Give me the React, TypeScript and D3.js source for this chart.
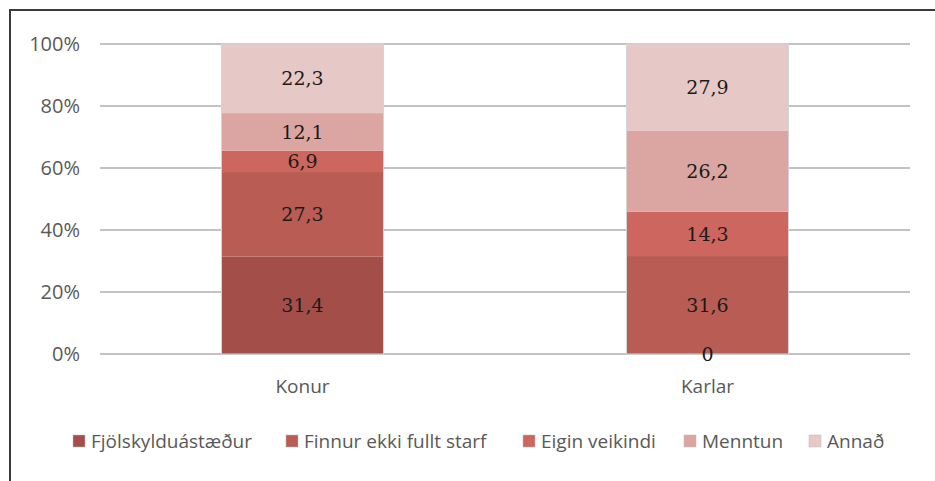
import React, { FC, useMemo } from 'react'
import * as d3 from 'd3'

const categories = ['Konur', 'Karlar']
const seriesNames = ['Fjölskylduástæður', 'Finnur ekki fullt starf', 'Eigin veikindi', 'Menntun', 'Annað']
const fjolskyldu = [31.4, 0]
const finnurEkki = [27.3, 31.6]
const eiginVeikindi = [6.9, 14.3]
const menntun = [12.1, 26.2]
const annad = [22.3, 27.9]
const yTicks = [0, 20, 40, 60, 80, 100]

const colors = ['#a34e48', '#b95c54', '#cd665e', '#dba5a2', '#e6c9c7']
// legend item x positions (square left edge)
const legendX = [73, 286, 523, 684, 809]

const W = 935
const H = 481
const margin = { left: 100, right: 25, top: 44, bottom: 127 }

const App: FC = () => {
	const rows = useMemo(
		() =>
			categories.map((c, i) => ({
				cat: c,
				[seriesNames[0]]: fjolskyldu[i],
				[seriesNames[1]]: finnurEkki[i],
				[seriesNames[2]]: eiginVeikindi[i],
				[seriesNames[3]]: menntun[i],
				[seriesNames[4]]: annad[i]
			})),
		[]
	)

	const stacked = useMemo(() => d3.stack<any>().keys(seriesNames)(rows), [rows])

	const x = d3
		.scaleBand()
		.domain(categories)
		.range([margin.left, W - margin.right])
		.paddingInner(0.6)
		.paddingOuter(0.3)

	const y = d3
		.scaleLinear()
		.domain([0, 100])
		.range([H - margin.bottom, margin.top])

	const fmt = (v: number) => String(v).replace('.', ',')

	return (
		<svg
			width={W}
			height={H}
			style={{ position: 'absolute', left: 0, top: 0, background: '#fff' }}
			fontFamily="'Open Sans', sans-serif"
		>
			{/* border */}
			<path d={`M10,${H} V10 H${W}`} fill="none" stroke="#3a3a3a" strokeWidth={2} />

			{/* grid */}
			<g>
				{yTicks.map(t => (
					<g key={t}>
						<line
							x1={margin.left}
							x2={W - margin.right}
							y1={y(t)}
							y2={y(t)}
							stroke="#c3c3c3"
							strokeWidth={2}
						/>
						<text
							x={80}
							y={y(t)}
							dy="0.35em"
							textAnchor="end"
							fontSize={20}
							fill="#595959"
						>
							{t}%
						</text>
					</g>
				))}
			</g>

			{/* bars */}
			<g>
				{stacked.map((s, si) =>
					s.map((d, ci) => (
						<rect
							key={`${si}-${ci}`}
							x={x(categories[ci])}
							y={y(d[1])}
							width={x.bandwidth()}
							height={y(d[0]) - y(d[1])}
							fill={colors[si]}
						/>
					))
				)}
				{categories.map(c => (
					<rect
						key={`o-${c}`}
						x={x(c)}
						y={y(100)}
						width={x.bandwidth()}
						height={y(0) - y(100)}
						fill="none"
						stroke="#d4d4d4"
						strokeWidth={1}
					/>
				))}
			</g>

			{/* data labels */}
			<g>
				{stacked.map((s, si) =>
					s.map((d, ci) => (
						<text
							key={`l-${si}-${ci}`}
							x={(x(categories[ci]) || 0) + x.bandwidth() / 2}
							y={y((d[0] + d[1]) / 2)}
							dy="0.35em"
							textAnchor="middle"
							fontFamily="'DejaVu Serif', serif"
							fontSize={19}
							fill="#1a1a1a"
						>
							{fmt(d.data[s.key])}
						</text>
					))
				)}
			</g>

			{/* category labels */}
			<g>
				{categories.map(c => (
					<text
						key={c}
						x={(x(c) || 0) + x.bandwidth() / 2}
						y={386}
						dy="0.35em"
						textAnchor="middle"
						fontSize={19}
						fill="#595959"
					>
						{c}
					</text>
				))}
			</g>

			{/* legend */}
			<g>
				{seriesNames.map((n, i) => (
					<g key={n} transform={`translate(${legendX[i]},435)`}>
						<rect width={12} height={12} fill={colors[i]} stroke="#bdbdbd" strokeWidth={0.5} />
						<text x={18} y={6} dy="0.35em" fontSize={19} fill="#595959">
							{n}
						</text>
					</g>
				))}
			</g>
		</svg>
	)
}

export default App
